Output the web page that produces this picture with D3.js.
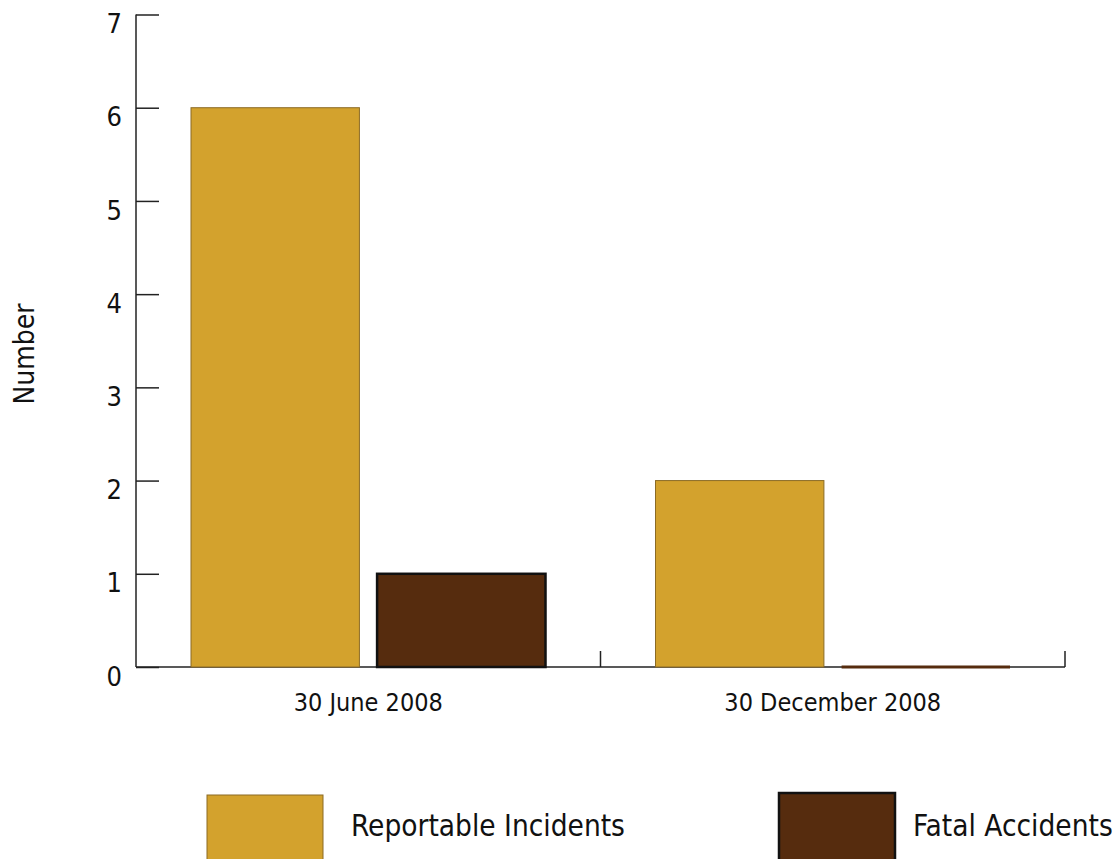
<!DOCTYPE html>
<html><head><meta charset="utf-8">
<script src="https://cdn.jsdelivr.net/npm/d3@7"></script>
<style>body{margin:0;background:#fff}svg{display:block}text{font-family:"DejaVu Sans Condensed","DejaVu Sans",sans-serif;fill:#111}</style>
</head><body><svg id="c" width="1120" height="859"></svg>
<script>
const categories = ["30 June 2008", "30 December 2008"];
const seriesNames = ["Reportable Incidents", "Fatal Accidents"];
const reportable = [6, 2];
const fatal = [1, 0];
const yTicks = [0, 1, 2, 3, 4, 5, 6, 7];

const colors = {"Reportable Incidents": "#D3A22D", "Fatal Accidents": "#562C0E"};
const strokes = {"Reportable Incidents": "#8B6B25", "Fatal Accidents": "#111"};
const strokeW = {"Reportable Incidents": 1, "Fatal Accidents": 2.5};

const svg = d3.select("#c");
const x0 = 136, x1 = 1065, yTop = 14.5, yBot = 667;
const x = d3.scaleBand().domain(categories).range([x0, x1]);
const sub = d3.scaleBand().domain(seriesNames).range([55, x.bandwidth() - 55]).paddingInner(0.095);
const y = d3.scaleLinear().domain([0, 7]).range([yBot, yTop]);

const data = categories.map((c, i) => ({cat: c, vals: [
  {name: seriesNames[0], v: reportable[i]},
  {name: seriesNames[1], v: fatal[i]}]}));

// y axis
const ya = svg.append("g").attr("transform", `translate(${x0},0)`)
  .call(d3.axisRight(y).tickValues(yTicks).tickSize(23).tickFormat(d3.format("d")));
ya.select(".domain").attr("stroke", "#222").attr("stroke-width", 1.5).attr("d", `M0,${yTop}V${yBot}`);
ya.selectAll(".tick line").attr("stroke", "#222").attr("stroke-width", 1.5);
ya.selectAll(".tick text").attr("x", -14).attr("dy", "0.67em").attr("text-anchor", "end")
  .style("font-size", "27px").attr("fill", "#111");

// x axis
const xa = svg.append("g").attr("transform", `translate(0,${yBot})`)
  .call(d3.axisBottom(x).tickSize(0).tickFormat(d => d));
xa.select(".domain").attr("stroke", "#222").attr("stroke-width", 1.5).attr("d", `M${x0},0H${x1}`);
xa.selectAll(".tick text").attr("y", 26).style("font-size", "25px").attr("fill", "#111");
// category separators
svg.append("g").selectAll("line").data(categories.slice(1).concat(["__end"]))
  .join("line")
  .attr("x1", d => d === "__end" ? x1 : x(d)).attr("x2", d => d === "__end" ? x1 : x(d))
  .attr("y1", yBot - 16).attr("y2", yBot).attr("stroke", "#222").attr("stroke-width", 1.5);

// bars
const g = svg.append("g");
data.forEach(d => {
  g.selectAll(null).data(d.vals).join("rect")
    .attr("x", v => x(d.cat) + sub(v.name))
    .attr("width", sub.bandwidth())
    .attr("y", v => y(v.v) - (v.v === 0 ? 1.5 : 0))
    .attr("height", v => v.v === 0 ? 3 : yBot - y(v.v))
    .attr("fill", v => colors[v.name])
    .attr("stroke", v => v.v === 0 ? "none" : strokes[v.name])
    .attr("stroke-width", v => strokeW[v.name]);
});

// y label
svg.append("text").attr("transform", "translate(34,354) rotate(-90)")
  .attr("text-anchor", "middle").style("font-size", "28px").text("Number");

// legend
const legend = [
  {name: seriesNames[0], sx: 207, sy: 795, tx: 351, ty: 836},
  {name: seriesNames[1], sx: 779, sy: 793, tx: 913, ty: 836}];
const lg = svg.append("g");
lg.selectAll("rect").data(legend).join("rect")
  .attr("x", d => d.sx).attr("y", d => d.sy).attr("width", 116).attr("height", 80)
  .attr("fill", d => colors[d.name]).attr("stroke", d => strokes[d.name]).attr("stroke-width", d => strokeW[d.name]);
lg.selectAll("text").data(legend).join("text")
  .attr("x", d => d.tx).attr("y", d => d.ty).style("font-size", "29.5px").text(d => d.name);
</script></body></html>
